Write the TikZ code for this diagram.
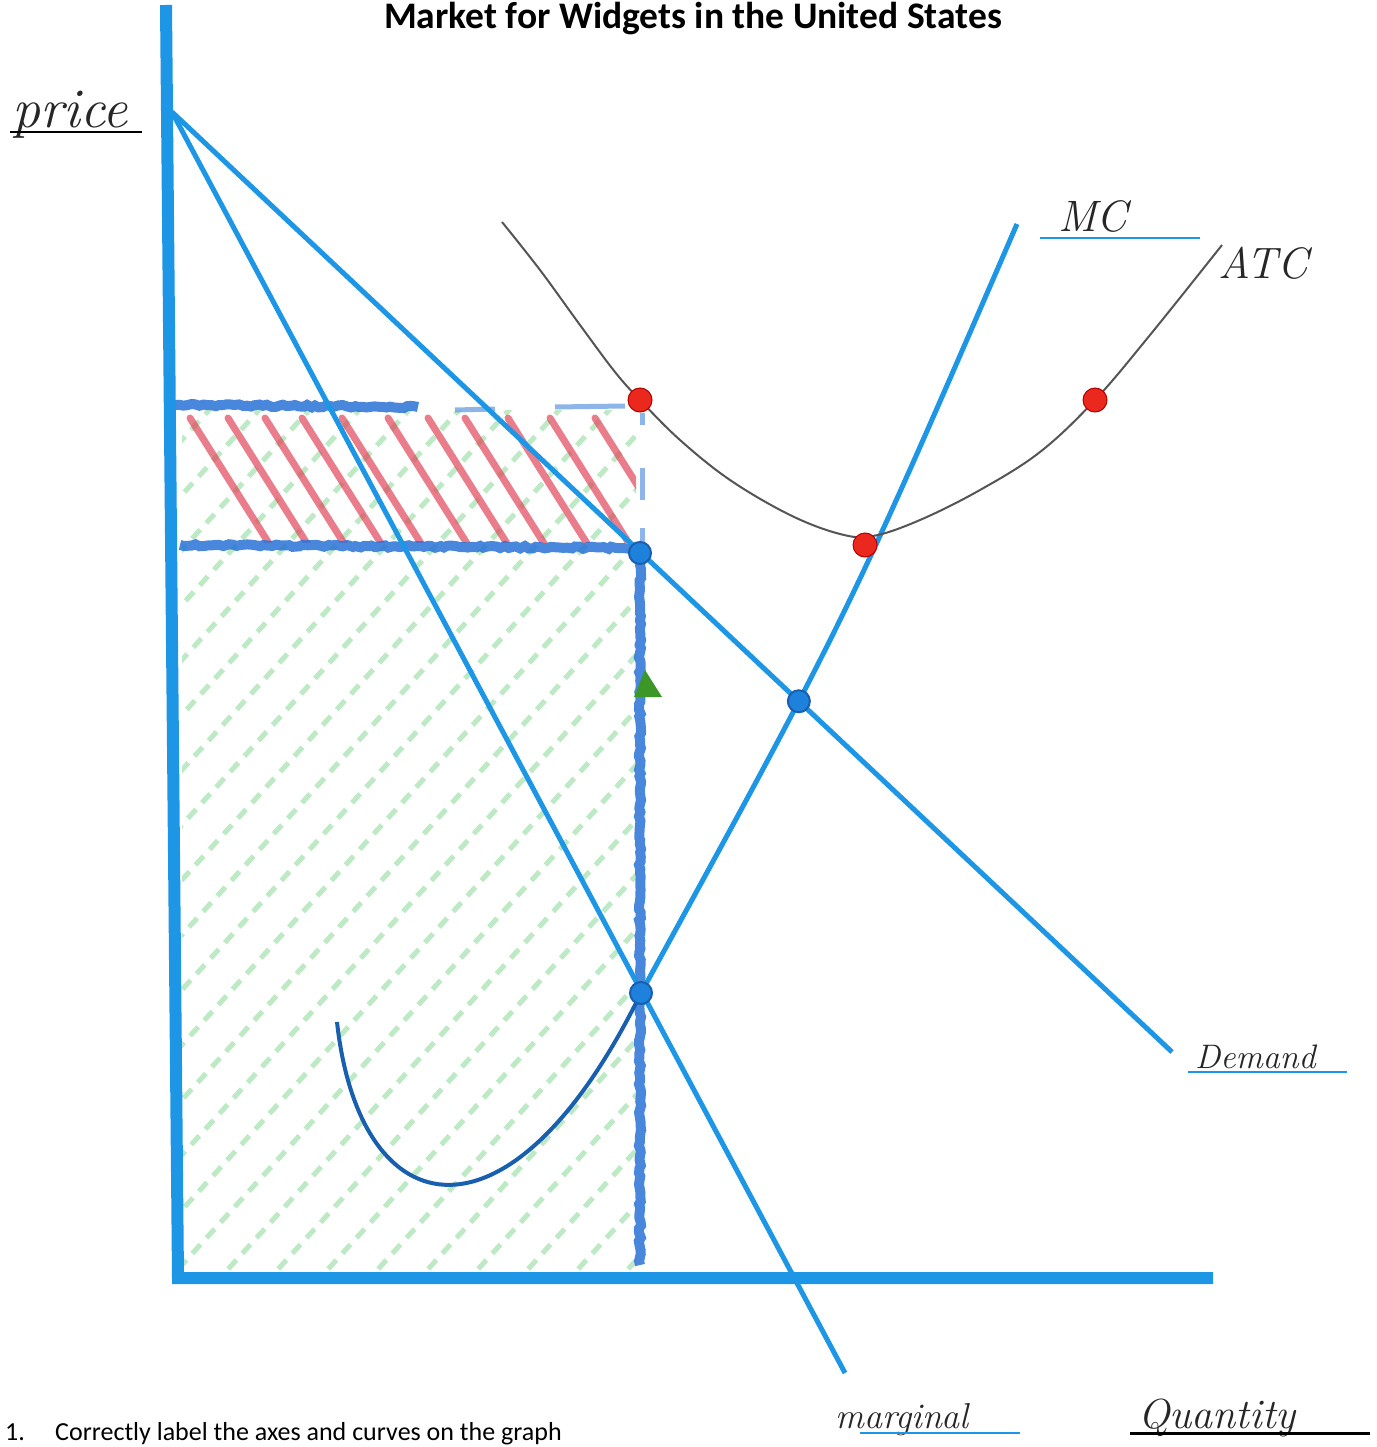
\documentclass[tikz,border=0pt]{standalone}
\usepackage{fontspec}
\newfontfamily\calibri{Carlito}
\usetikzlibrary{intersections,decorations.pathmorphing}
\definecolor{lineblue}{RGB}{30,150,230}
\definecolor{darkcurve}{RGB}{25,95,175}
\definecolor{crayon}{RGB}{40,115,215}
\definecolor{dotred}{RGB}{235,40,30}
\definecolor{dotblue}{RGB}{30,130,220}
\definecolor{hatchgreen}{RGB}{90,200,110}
\definecolor{hatchred}{RGB}{225,70,90}
\definecolor{trigreen}{RGB}{60,150,40}
\definecolor{atcgray}{RGB}{85,85,85}
\tikzset{
  curveline/.style={lineblue, line width=5pt},
  axisline/.style={lineblue, line width=12pt},
  crayonline/.style={crayon, line width=10pt, opacity=0.85, decorate,
     decoration={random steps, segment length=4pt, amplitude=1.2pt}},
  crayonfaint/.style={crayon!70, line width=5pt, opacity=0.75},
  reddot/.style={circle, fill=dotred, draw=red!70!black, line width=1pt, minimum size=24pt, inner sep=0pt},
  bluedot/.style={circle, fill=dotblue, draw=darkcurve, line width=2pt, minimum size=22pt, inner sep=0pt},
  handlbl/.style={anchor=base west, inner sep=0pt, text=black!85},
  blankline/.style={line width=2.5pt},
}
\pgfmathsetseed{7}
\begin{document}
\begin{tikzpicture}[x=1pt,y=-1pt]
\useasboundingbox (0,0) rectangle (1376,1447);
\fill[white] (0,0) rectangle (1376,1447);

% coordinates
\coordinate (ytop) at (166,5);
\coordinate (origin) at (178,1278);
\coordinate (xend) at (1213,1278);
\coordinate (pmax) at (172,112);
\coordinate (demEnd) at (1172,1052);
\coordinate (mrEnd) at (845,1373);
\coordinate (mcTop) at (1017,224);
\coordinate (mcJoin) at (641,993);
\coordinate (mcStart) at (337,1022);

% green hatching
\begin{scope}
  \clip (182,410) rectangle (636,1272);
  \foreach \x in {-900,-850,...,650}
    \draw[hatchgreen, opacity=0.4, line width=5pt, dash pattern=on 12pt off 9pt] (\x,1300) -- ++(1000,-1100);
\end{scope}
% red hatching
\begin{scope}
  \clip (182,414) rectangle (636,542);
  \foreach \x in {190,228,265,302,342,388,428,465,508,550,595}
    \draw[hatchred, opacity=0.7, line width=7pt, line cap=round] (\x,418) -- ++(85,135);
\end{scope}

% crayon lines
\draw[crayonline] (175,405) -- (418,407);
\draw[crayonfaint] (455,410) -- (495,409);
\draw[crayonfaint] (555,407) -- (625,406);
\draw[crayonline] (180,545) -- (640,548);
\draw[crayonline] (640,553) -- (640,1265);
\draw[crayonfaint] (642,413) -- (642,425);
\draw[crayonfaint] (642,468) -- (642,500);
\draw[crayonfaint] (642,528) -- (642,545);

% axes
\draw[axisline] (ytop) -- (origin) -- (xend);

% demand and MR
\draw[curveline, name path=demand] (pmax) -- (demEnd);
\draw[curveline, name path=mr] (pmax) -- (mrEnd);
% MC
\draw[darkcurve, line width=4pt] (mcStart) .. controls (360,1230) and (511,1258) .. (mcJoin);
\draw[curveline, name path=mc] (mcJoin) .. controls (847,617) .. (mcTop);
% ATC
\draw[atcgray, line width=2pt] plot[smooth, tension=0.6] coordinates {
  (502,222) (540,270) (580,325) (615,372) (640,400) (680,440) (730,480)
  (790,515) (840,534) (873,536) (920,520) (980,490) (1040,452) (1095,400)
  (1150,335) (1222,245)};

% dots
\path[name intersections={of=demand and mc, by=eqpt}];
\node[bluedot] (eq) at (eqpt) {};
\node[bluedot] (pdot) at (640,553) {};
\node[bluedot] (qdot) at (mcJoin) {};
\node[reddot] (atc1) at (640,400) {};
\node[reddot] (atcmin) at (865,545) {};
\node[reddot] (atc2) at (1095,400) {};
\fill[trigreen] (645,670) -- (662,697) -- (634,697) -- cycle;

% title
\node[font=\calibri\bfseries\fontsize{37.5}{44}\selectfont, anchor=base] (title) at (693,29) {Market for Widgets in the United States};

% labels
\node[handlbl, font=\fontsize{56}{60}\selectfont\itshape] (pricelbl) at (12,128) {price};
\draw[blankline, black] (10,132) -- (142,132);
\node[handlbl, font=\fontsize{44}{50}\selectfont\itshape] (mclbl) at (1058,232) {MC};
\draw[blankline, lineblue] (1040,238) -- (1200,238);
\node[handlbl, font=\fontsize{44}{50}\selectfont\itshape] (atclbl) at (1218,278) {ATC};
\node[handlbl, font=\fontsize{34}{40}\selectfont\itshape] (demlbl) at (1195,1068) {Demand};
\draw[blankline, lineblue] (1188,1072) -- (1347,1072);
\node[handlbl, font=\fontsize{36}{40}\selectfont\itshape] (mrlbl) at (835,1428) {marginal};
\draw[blankline, lineblue] (860,1433) -- (1020,1433);
\node[handlbl, font=\fontsize{42}{46}\selectfont\itshape] (qlbl) at (1138,1428) {Quantity};
\draw[blankline, black, line width=3pt] (1130,1433) -- (1370,1433);

% bottom instruction
\node[anchor=base west, inner sep=0pt, font=\calibri\fontsize{26}{30}\selectfont] (num) at (5,1440) {1.};
\node[anchor=base west, inner sep=0pt, font=\calibri\fontsize{26}{30}\selectfont] (instr) at (55,1440) {Correctly label the axes and curves on the graph};
\end{tikzpicture}
\end{document}
